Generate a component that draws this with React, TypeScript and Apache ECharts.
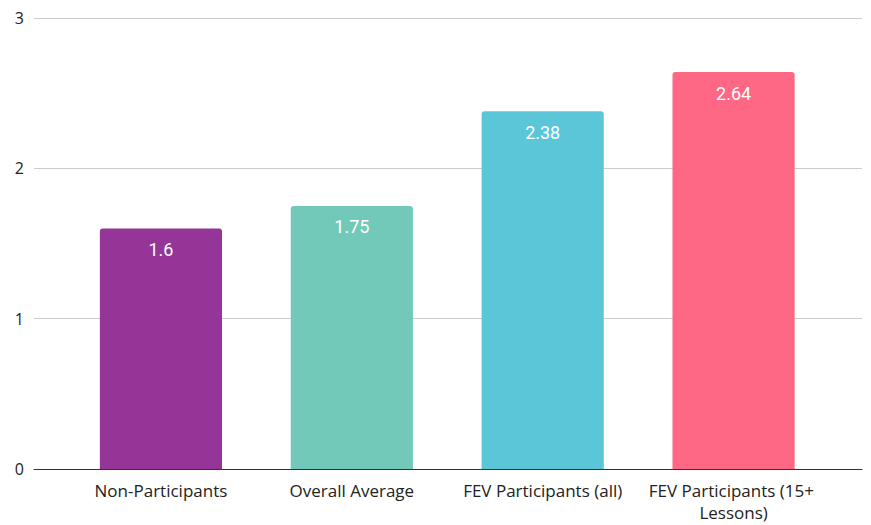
import React, { useEffect, useRef } from "react";
import * as echarts from "echarts";

const categories = ["Non-Participants", "Overall Average", "FEV Participants (all)", "FEV Participants (15+ Lessons)"];
const values = [1.6, 1.75, 2.38, 2.64];
const colors = ["#953597", "#72C9BA", "#5BC6D8", "#FF6884"];
const yTicks = [0, 1, 2, 3];

export default function App() {
  const ref = useRef<HTMLDivElement>(null);
  useEffect(() => {
    const chart = echarts.init(ref.current!, null, { renderer: "svg" });
    const yMin = yTicks[0];
    const yMax = yTicks[yTicks.length - 1];
    chart.setOption({
      animation: false,
      grid: [
        { left: 34, right: 9, top: 18, bottom: 56 },
        { left: 65.5, right: 42, top: 18, bottom: 56 },
      ],
      xAxis: [
        {
          gridIndex: 0,
          type: "category",
          data: [""],
          axisTick: { show: false },
          axisLabel: { show: false },
          axisLine: { lineStyle: { color: "#333", width: 1 } },
        },
        {
          gridIndex: 1,
          type: "category",
          data: categories,
          axisTick: { show: false },
          axisLine: { show: false },
          axisLabel: {
            color: "#222",
            fontSize: 17,
            fontFamily: "Open Sans",
            interval: 0,
            width: 190,
            overflow: "break",
            lineHeight: 22,
            margin: 10,
          },
        },
      ],
      yAxis: [
        {
          gridIndex: 0,
          type: "value",
          min: yMin,
          max: yMax,
          interval: 1,
          axisLabel: { color: "#222", fontSize: 16, fontFamily: "Open Sans", margin: 10 },
          splitLine: { lineStyle: { color: "#ccc" } },
        },
        {
          gridIndex: 1,
          type: "value",
          min: yMin,
          max: yMax,
          interval: 1,
          show: false,
        },
      ],
      series: [
        {
          type: "bar",
          xAxisIndex: 1,
          yAxisIndex: 1,
          data: values.map((v, i) => ({ value: v, itemStyle: { color: colors[i], borderRadius: [3, 3, 0, 0] } })),
          barWidth: "64%",
          label: {
            show: true,
            position: "insideTop",
            color: "#fff",
            fontSize: 18,
            fontFamily: "Roboto",
            distance: 12,
          },
        },
      ],
    });
    return () => chart.dispose();
  }, []);
  return <div ref={ref} style={{ width: 871, height: 525, position: "absolute", left: 0, top: 0 }} />;
}
